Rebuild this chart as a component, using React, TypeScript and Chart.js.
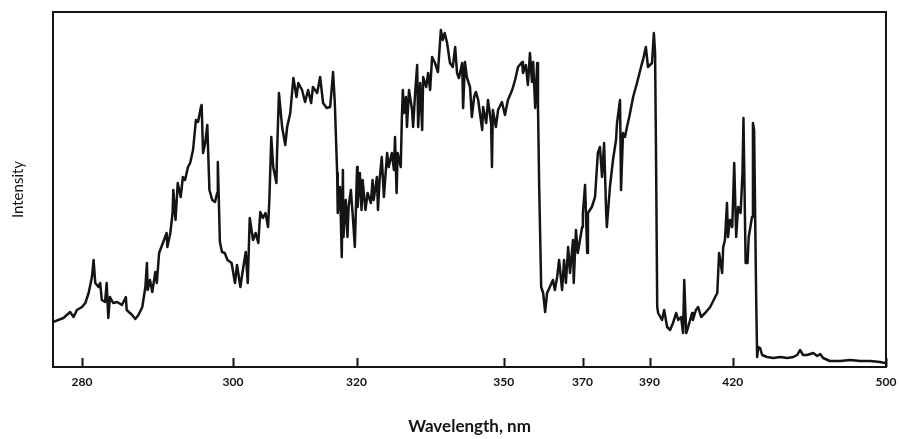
import React, { useEffect, useRef } from 'react';
import { Chart, registerables, LinearScale } from 'chart.js';

// Wavelength axis (prism dispersion: positions linear in 1/λ²)
const X_TICKS_NM = [280, 300, 320, 350, 370, 390, 420, 500];
const X_MIN_NM = 276.6;
const X_MAX_NM = 500;
const Y_MAX = 355;

const X_TITLE = 'Wavelength, nm';
const Y_TITLE = 'Intensity';

const WAVELENGTH_NM = [
  276.6, 277.8, 278.6, 279.0, 279.4, 280.0, 280.4, 280.8, 281.2, 281.4,
  281.6, 282.0, 282.2, 282.4, 282.8, 283.0, 283.2, 283.4, 283.8, 284.3,
  284.9, 285.4, 285.5, 286.2, 286.6, 287.0, 287.5, 287.9, 288.1, 288.2,
  288.5, 288.8, 289.2, 289.4, 289.7, 290.2, 290.7, 290.8, 291.2, 291.5,
  291.6, 291.9, 292.2, 292.6, 292.9, 293.2, 293.6, 293.9, 294.3, 294.7,
  295.0, 295.4, 295.5, 295.7, 296.0, 296.3, 296.6, 297.0, 297.4, 297.7,
  297.8, 298.1, 298.4, 298.8, 299.2, 299.8, 300.3, 300.6, 301.1, 301.4,
  301.9, 302.2, 302.5, 303.0, 303.4, 303.8, 304.1, 304.5, 304.9, 305.3,
  305.5, 305.8, 306.1, 306.6, 306.7, 307.0, 307.5, 308.0, 308.3, 308.8,
  309.3, 309.8, 310.1, 310.7, 311.2, 311.7, 312.2, 312.5, 313.2, 313.7,
  314.2, 314.8, 315.4, 315.9, 316.2, 316.6, 316.7, 317.1, 317.4, 317.6,
  317.7, 318.1, 318.4, 318.6, 319.0, 319.3, 319.7, 320.1, 320.2, 320.6,
  320.9, 321.1, 321.6, 322.0, 322.6, 322.9, 323.1, 323.7, 323.9, 324.2,
  324.6, 325.0, 325.6, 325.9, 326.5, 326.9, 327.1, 327.4, 327.6, 328.2,
  328.4, 328.6, 328.8, 329.2, 329.4, 329.8, 330.4, 330.6, 331.0, 331.4,
  331.6, 332.0, 332.4, 332.6, 333.2, 333.6, 334.0, 334.4, 335.0, 335.6,
  336.2, 336.6, 337.0, 337.5, 338.1, 338.7, 339.2, 339.6, 340.0, 340.7,
  340.9, 341.3, 341.7, 342.4, 342.8, 343.3, 343.7, 344.2, 345.1, 345.3,
  346.0, 346.4, 347.1, 347.3, 347.5, 348.2, 348.7, 349.6, 350.3, 351.0,
  352.0, 352.7, 353.4, 354.4, 354.6, 355.3, 355.8, 356.3, 356.8, 357.1,
  357.6, 358.1, 358.3, 358.6, 359.1, 359.6, 360.1, 360.6, 361.3, 362.1,
  362.6, 363.2, 363.7, 364.5, 365.0, 365.5, 366.1, 366.6, 367.4, 367.6,
  368.2, 368.7, 369.9, 370.1, 370.7, 371.3, 371.5, 372.6, 373.5, 374.3,
  374.9, 375.5, 376.1, 376.7, 376.9, 377.8, 378.7, 379.6, 379.9, 380.8,
  381.1, 381.7, 382.3, 382.9, 383.6, 384.8, 386.0, 387.6, 387.9, 388.8,
  389.5, 390.8, 391.4, 391.8, 392.1, 392.5, 392.8, 394.1, 394.8, 395.8,
  396.8, 397.8, 398.9, 399.6, 400.6, 401.3, 401.7, 402.4, 403.1, 404.5,
  404.8, 405.9, 406.7, 407.8, 409.3, 411.2, 413.1, 413.9, 414.6, 415.8,
  416.2, 416.9, 417.7, 418.1, 418.9, 419.8, 420.6, 421.4, 422.2, 423.2,
  424.0, 424.4, 425.3, 426.1, 426.6, 427.1, 428.0, 428.4, 428.9, 429.8,
  430.2, 430.7, 431.5, 432.4, 434.6, 437.3, 440.6, 443.9, 446.8, 448.7,
  450.1, 451.6, 453.7, 456.8, 458.9, 460.5, 462.0, 465.7, 471.5, 477.2,
  483.4, 489.6, 496.0, 499.3,
];

const INTENSITY = [
  45, 49, 55, 50, 57, 60, 64, 74, 90, 107,
  84, 80, 84, 67, 65, 84, 49, 70, 64, 65,
  62, 70, 57, 52, 48, 52, 60, 80, 104, 77,
  87, 75, 95, 84, 114, 124, 134, 120, 134, 154,
  177, 147, 184, 170, 190, 187, 200, 204, 217, 247,
  245, 260, 262, 214, 224, 242, 177, 167, 165, 174,
  205, 125, 115, 114, 107, 104, 84, 102, 80, 94,
  115, 84, 149, 127, 134, 124, 155, 149, 154, 140,
  167, 230, 200, 184, 214, 274, 240, 222, 240, 254,
  289, 270, 284, 277, 265, 277, 264, 280, 274, 290,
  264, 259, 260, 295, 264, 194, 154, 180, 110, 197,
  130, 167, 130, 160, 177, 154, 120, 200, 160, 194,
  157, 187, 157, 174, 164, 187, 167, 190, 157, 187,
  210, 170, 214, 200, 214, 197, 230, 174, 214, 200,
  247, 277, 254, 270, 240, 277, 257, 240, 274, 302,
  240, 284, 237, 290, 280, 294, 277, 310, 304, 295,
  337, 327, 334, 324, 304, 300, 320, 294, 289, 304,
  259, 305, 290, 280, 250, 270, 275, 267, 237, 260,
  244, 267, 244, 200, 257, 240, 257, 265, 252, 267,
  277, 287, 300, 305, 294, 302, 282, 314, 285, 305,
  259, 304, 260, 180, 80, 74, 55, 74, 80, 87,
  77, 90, 107, 77, 107, 84, 120, 94, 127, 84,
  137, 114, 140, 154, 182, 114, 154, 160, 170, 214,
  220, 190, 224, 154, 140, 180, 207, 227, 244, 267,
  177, 234, 230, 240, 250, 270, 284, 304, 307, 320,
  300, 304, 334, 314, 214, 60, 54, 47, 57, 40,
  37, 44, 54, 47, 50, 34, 87, 34, 40, 54,
  47, 57, 60, 50, 54, 60, 70, 74, 114, 94,
  120, 127, 164, 130, 147, 140, 204, 130, 160, 154,
  194, 249, 104, 104, 130, 137, 150, 244, 237, 67,
  10, 20, 19, 12, 10, 9, 10, 9, 10, 12,
  17, 12, 12, 14, 11, 13, 9, 6, 6, 7,
  6, 6, 5, 4,
];

const INK = '#141414';
const FONT = 'Lato, "Open Sans", sans-serif';

class InverseSquareScale extends LinearScale {
  static id = 'inverseSquare';
  static defaults = LinearScale.defaults;

  inv(v: number) {
    return 1 / (v * v);
  }
  getPixelForValue(value: any) {
    if (value === null || value === undefined || isNaN(value)) return NaN;
    const a = this.inv(this.min);
    const b = this.inv(this.max);
    return this.getPixelForDecimal((a - this.inv(value)) / (a - b));
  }
  getValueForPixel(pixel: number) {
    const a = this.inv(this.min);
    const b = this.inv(this.max);
    const d = this.getDecimalForPixel(pixel);
    return 1 / Math.sqrt(a - d * (a - b));
  }
  buildTicks() {
    this.start = this.min;
    this.end = this.max;
    return X_TICKS_NM.filter((v) => v >= this.min && v <= this.max).map((v) => ({ value: v }));
  }
}

Chart.register(...registerables, InverseSquareScale);

const framePlugin = {
  id: 'frameAndInnerTicks',
  afterDatasetsDraw(chart: any) {
    const { ctx, chartArea } = chart;
    const { left, right, top, bottom } = chartArea;
    const xs = chart.scales.x;
    ctx.save();
    ctx.strokeStyle = INK;
    ctx.lineWidth = 2;
    ctx.strokeRect(left, top, right - left, bottom - top);
    ctx.beginPath();
    for (const t of xs.ticks) {
      const px = Math.round(xs.getPixelForValue(t.value)) + 0.5;
      ctx.moveTo(px, bottom);
      ctx.lineTo(px, bottom - 9);
    }
    ctx.stroke();
    ctx.restore();
  },
};

export default function App() {
  const canvasRef = useRef<HTMLCanvasElement | null>(null);

  useEffect(() => {
    const canvas = canvasRef.current;
    if (!canvas) return;
    const n = Math.min(WAVELENGTH_NM.length, INTENSITY.length);
    const points = [];
    for (let i = 0; i < n; i++) points.push({ x: WAVELENGTH_NM[i], y: INTENSITY[i] });

    const chart = new Chart(canvas, {
      type: 'line',
      data: {
        datasets: [
          {
            label: 'Emission spectrum',
            data: points,
            borderColor: INK,
            borderWidth: 2.5,
            pointRadius: 0,
            tension: 0,
            fill: false,
            borderJoinStyle: 'round',
            borderCapStyle: 'round',
          } as any,
        ],
      },
      options: {
        responsive: false,
        animation: false,
        devicePixelRatio: 1,
        layout: { padding: { left: 5, top: 12, right: 13, bottom: 0 } },
        plugins: {
          legend: { display: false },
          tooltip: { enabled: false },
        },
        scales: {
          x: {
            type: 'inverseSquare' as any,
            position: 'bottom',
            min: X_MIN_NM,
            max: X_MAX_NM,
            grid: { display: false, drawTicks: false },
            border: { display: false },
            ticks: {
              autoSkip: false,
              maxRotation: 0,
              minRotation: 0,
              padding: 8,
              color: INK,
              font: { family: FONT, size: 12, weight: 'bold' },
              callback: (v: any) => String(v),
            },
            title: {
              display: true,
              text: X_TITLE,
              color: INK,
              font: { family: FONT, size: 17, weight: 'bold' },
              padding: { top: 0, bottom: 2 },
            },
            afterFit: (s: any) => {
              s.height = 72;
              s.paddingLeft = 0;
              s.paddingRight = 0;
            },
          } as any,
          y: {
            type: 'linear',
            min: 0,
            max: Y_MAX,
            ticks: { display: false },
            grid: { display: false },
            border: { display: false },
            title: {
              display: true,
              text: Y_TITLE,
              color: INK,
              font: { family: FONT, size: 15 },
              padding: { top: 4, bottom: 4 },
            },
            afterFit: (s: any) => {
              s.width = 48;
            },
          },
        },
      },
      plugins: [framePlugin],
    });
    return () => chart.destroy();
  }, []);

  return (
    <div style={{ position: 'fixed', left: 0, top: 0, width: 899, height: 439, background: '#fff' }}>
      <canvas ref={canvasRef} width={899} height={439} style={{ display: 'block' }} />
    </div>
  );
}
